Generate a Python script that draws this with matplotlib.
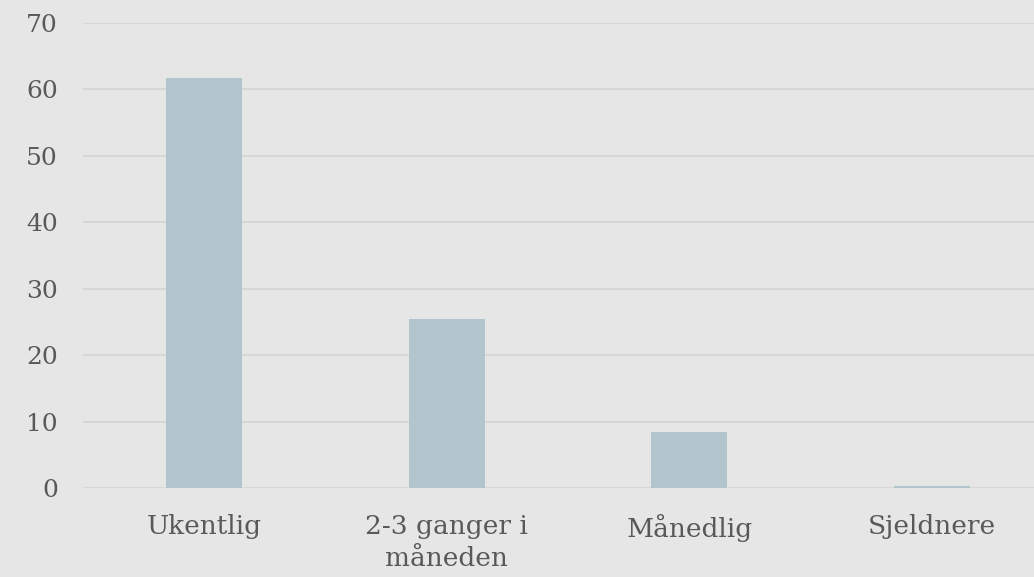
import matplotlib.pyplot as plt

categories = ["Ukentlig", "2-3 ganger i\nmåneden", "Månedlig", "Sjeldnere"]
values = [61.7, 25.5, 8.5, 0.3]
yticks = [0, 10, 20, 30, 40, 50, 60, 70]

bg = "#e6e6e6"
bar_color = "#b2c5cd"
text_color = "#595959"

plt.rcParams['font.family'] = ['DejaVu Serif']

fig = plt.figure(figsize=(10.34, 5.77), dpi=100)
fig.patch.set_facecolor(bg)
ax = fig.add_axes([83 / 1034, 89 / 577, 970 / 1034, 465 / 577])
ax.set_facecolor(bg)

x = range(len(categories))
ax.bar(x, values, width=0.315, color=bar_color, zorder=2)

ax.set_xlim(-0.5, 3.5)
ax.set_ylim(0, 70)
ax.set_yticks(yticks)
ax.yaxis.grid(True, color="#d4d4d4", linewidth=1.2, zorder=0)
ax.set_xticks(list(x))
ax.set_xticklabels(categories, fontsize=19, color=text_color, linespacing=1.35)
ax.tick_params(axis='y', labelsize=18, labelcolor=text_color, length=0, pad=18)
ax.tick_params(axis='x', length=0, pad=19)
for s in ax.spines.values():
    s.set_visible(False)

fig.savefig("out.png", dpi=100, facecolor=bg)
